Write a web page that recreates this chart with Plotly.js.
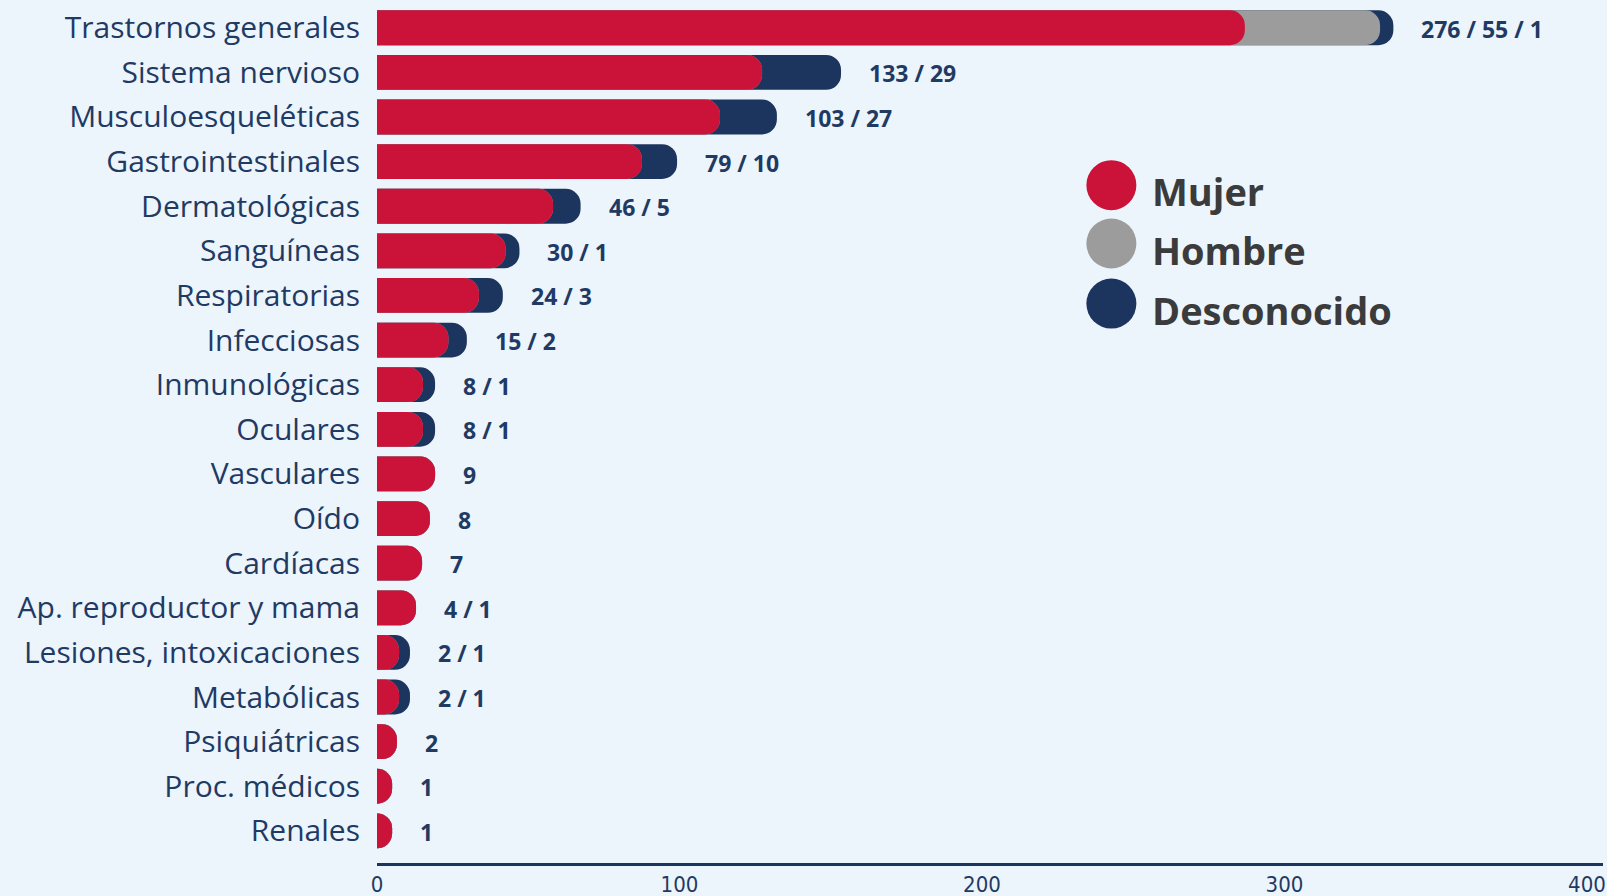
<!DOCTYPE html>
<html>
<head>
<meta charset="utf-8">
<script src="https://cdn.plot.ly/plotly-3.0.1.min.js"></script>
<style>
  html, body { margin: 0; padding: 0; background: #ecf4fc; }
  #chart { width: 1607px; height: 896px; }
</style>
</head>
<body>
<div id="chart"></div>
<script>
// categories, top to bottom
var categorias = ['Trastornos generales', 'Sistema nervioso', 'Musculoesqueléticas', 'Gastrointestinales',
  'Dermatológicas', 'Sanguíneas', 'Respiratorias', 'Infecciosas', 'Inmunológicas', 'Oculares',
  'Vasculares', 'Oído', 'Cardíacas', 'Ap. reproductor y mama', 'Lesiones, intoxicaciones',
  'Metabólicas', 'Psiquiátricas', 'Proc. médicos', 'Renales'];

// bar segment lengths as drawn in the picture
var mujer = [286.9, 127.3, 113.4, 87.6, 58.2, 42.5, 33.7, 23.6, 15.2, 15.2, 19.2, 17.5, 14.9, 12.9, 7.3, 7.3, 6.6, 5.0, 5.0];
var hombre = [44.7, 0, 0, 0, 0, 0, 0, 0, 0, 0, 0, 0, 0, 0, 0, 0, 0, 0, 0];
var desconocido = [4.4, 26.1, 18.8, 11.6, 9.1, 4.6, 7.9, 6.1, 4.0, 4.0, 0, 0, 0, 0, 3.6, 3.6, 0, 0, 0];

// value labels printed next to each bar
var etiquetas = ['276 / 55 / 1', '133 / 29', '103 / 27', '79 / 10', '46 / 5', '30 / 1', '24 / 3', '15 / 2',
  '8 / 1', '8 / 1', '9', '8', '7', '4 / 1', '2 / 1', '2 / 1', '2', '1', '1'];

var xTicks = [0, 100, 200, 300, 400];
var X_RANGE = [0, 405.3];

var ROJO = '#cb1238';
var GRIS = '#9c9c9c';
var AZUL = '#1c355e';
var TEXTO = '#1f3a63';

var hastaHombre = mujer.map(function (v, i) { return v + hombre[i]; });
var total = hastaHombre.map(function (v, i) { return v + desconocido[i]; });

// each series gets its own (hidden) x axis so plotly rounds every bar end,
// and the shorter bar's rounded end sits on top of the longer one
function barra(x, color, name, xaxis) {
  return {
    type: 'bar',
    orientation: 'h',
    x: x,
    y: categorias,
    xaxis: xaxis,
    yaxis: 'y',
    name: name,
    width: 0.78,
    marker: { color: color, cornerradius: 15, line: { width: 0 } },
    hoverinfo: 'skip'
  };
}

var data = [
  barra(total, AZUL, 'Desconocido', 'x'),
  barra(hastaHombre, GRIS, 'Hombre', 'x2'),
  barra(mujer, ROJO, 'Mujer', 'x3')
];

var anotaciones = etiquetas.map(function (t, i) {
  return {
    x: total[i], y: categorias[i], xref: 'x', yref: 'y',
    text: '<b>' + t + '</b>', showarrow: false,
    xanchor: 'left', xshift: 26, yshift: -1,
    font: { family: 'Open Sans', size: 23, color: TEXTO }
  };
});

// legend drawn by hand: big dots and bold names
var leyenda = [['Mujer', ROJO, 0.790], ['Hombre', GRIS, 0.722], ['Desconocido', AZUL, 0.652]];
var formas = [];
leyenda.forEach(function (l) {
  formas.push({
    type: 'circle', xref: 'paper', yref: 'paper',
    xsizemode: 'pixel', ysizemode: 'pixel',
    xanchor: 0.599, yanchor: l[2],
    x0: -25, x1: 25, y0: -25, y1: 25,
    fillcolor: l[1], line: { width: 0 }
  });
  anotaciones.push({
    x: 0.6305, y: l[2], xref: 'paper', yref: 'paper',
    text: '<b>' + l[0] + '</b>', showarrow: false,
    xanchor: 'left', yanchor: 'middle', yshift: -6,
    font: { family: 'Open Sans', size: 38, color: '#3b3b3b' }
  });
});

var ejeOculto = { overlaying: 'x', range: X_RANGE, visible: false, showgrid: false, zeroline: false };

var layout = {
  width: 1607,
  height: 896,
  margin: { l: 377, r: 4, t: 5, b: 33 },
  paper_bgcolor: '#ecf4fc',
  plot_bgcolor: '#ecf4fc',
  barmode: 'overlay',
  showlegend: false,
  font: { family: 'Open Sans', color: TEXTO },
  xaxis: {
    range: X_RANGE,
    tickvals: xTicks,
    showgrid: false,
    zeroline: false,
    showline: true,
    linecolor: AZUL,
    linewidth: 3,
    ticks: '',
    tickfont: { family: 'Liberation Sans Narrow, DejaVu Sans Condensed', size: 22, color: TEXTO }
  },
  xaxis2: ejeOculto,
  xaxis3: ejeOculto,
  yaxis: {
    type: 'category',
    range: [18.72, -0.51],
    showgrid: false,
    zeroline: false,
    showline: false,
    ticks: 'outside',
    ticklen: 10,
    tickcolor: 'rgba(0,0,0,0)',
    tickfont: { family: 'Open Sans', size: 30, color: TEXTO }
  },
  shapes: formas,
  annotations: anotaciones
};

Plotly.newPlot('chart', data, layout, { displayModeBar: false, staticPlot: true });
</script>
</body>
</html>
